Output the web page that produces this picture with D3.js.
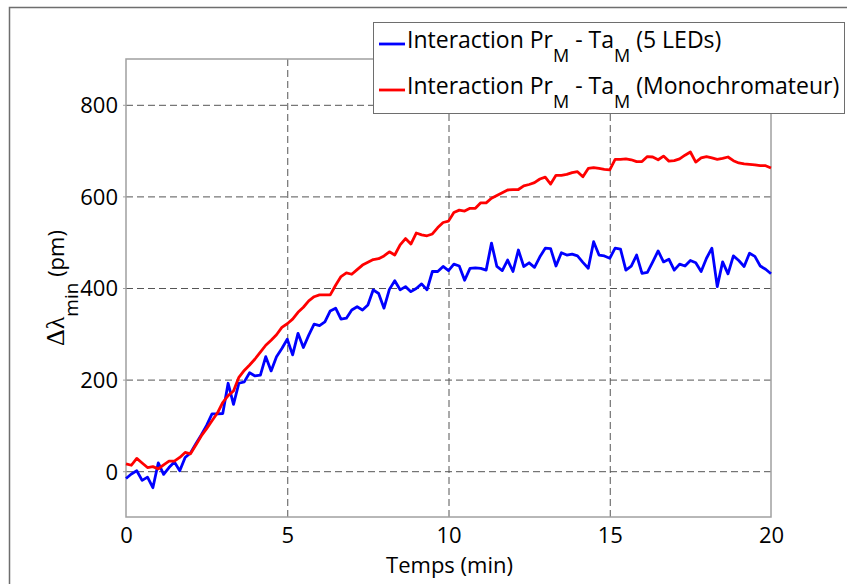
<!DOCTYPE html>
<html>
<head>
<meta charset="utf-8">
<script src="https://cdn.jsdelivr.net/npm/d3@7"></script>
<style>
  body { margin: 0; background: #fff; }
  svg { display: block; }
  text { font-family: "Open Sans", sans-serif; fill: #000; }
</style>
</head>
<body>
<svg id="chart" width="847" height="584"></svg>
<script>
// sampling interval of the recordings (10 s = 1/6 min)
const sampleStep = 1 / 6;

// Interaction PrM - TaM (5 LEDs), pm
const ledValues = [
  -16, -6, 1, -20, -13, -36, 18, -7, 8, 20, 1, 30, 40, 60, 79, 100, 125, 125, 126, 192,
  146, 192, 195, 215, 208, 210, 250, 219, 250, 268, 288, 254, 301, 270, 297, 321, 318, 326, 350, 356,
  332, 334, 352, 359, 352, 363, 396, 388, 356, 397, 416, 396, 403, 392, 399, 409, 396, 436, 436, 447,
  438, 452, 448, 417, 443, 444, 443, 439, 498, 447, 438, 461, 436, 483, 447, 455, 445, 468, 487, 486,
  448, 477, 472, 474, 470, 456, 443, 501, 472, 470, 465, 487, 485, 439, 448, 472, 432, 434, 457, 481,
  457, 463, 439, 452, 448, 460, 455, 436, 465, 487, 403, 457, 431, 470, 460, 447, 476, 469, 448, 441,
  431
];

// Interaction PrM - TaM (Monochromateur), pm
const monoValues = [
  16, 13, 28, 18, 8, 10, 5, 14, 22, 22, 30, 41, 38, 57, 77, 93, 110, 127, 150, 165,
  175, 205, 220, 232, 245, 260, 275, 286, 298, 314, 322, 332, 347, 358, 372, 381, 385, 385, 385, 406,
  425, 433, 430, 440, 450, 456, 462, 464, 470, 479, 472, 494, 508, 496, 520, 516, 514, 518, 532, 543,
  546, 565, 570, 568, 574, 574, 586, 586, 596, 602, 608, 614, 615, 615, 623, 626, 630, 638, 642, 627,
  646, 646, 648, 652, 654, 643, 661, 663, 661, 659, 658, 681, 681, 682, 680, 676, 676, 687, 686, 680,
  688, 677, 678, 682, 690, 697, 675, 684, 687, 684, 681, 683, 686, 678, 673, 671, 670, 669, 667, 667,
  662
];

const xTicks = [0, 5, 10, 15, 20];
const yTicks = [0, 200, 400, 600, 800];
const xDomain = [0, 20];
const yDomain = [-100, 900];

const seriesList = [
  { name: "5 LEDs", color: "#0000ff", values: ledValues },
  { name: "Monochromateur", color: "#ff0000", values: monoValues }
];

const svg = d3.select("#chart");

// outer frame of the figure
svg.append("rect")
  .attr("x", 9.5).attr("y", 7.5)
  .attr("width", 900).attr("height", 600)
  .attr("fill", "none")
  .attr("stroke", "#6e6e6e")
  .attr("stroke-width", 1.5);

const plot = { left: 126, right: 771, top: 59, bottom: 517 };

const x = d3.scaleLinear().domain(xDomain).range([plot.left, plot.right]);
const y = d3.scaleLinear().domain(yDomain).range([plot.bottom, plot.top]);

// dashed grid
svg.append("g")
  .attr("transform", `translate(0,${plot.bottom})`)
  .call(d3.axisBottom(x).tickValues(xTicks.slice(1, -1)).tickSize(-(plot.bottom - plot.top)).tickFormat(""))
  .call(g => g.select(".domain").remove())
  .selectAll("line")
  .attr("stroke", "#555").attr("stroke-dasharray", "7,4");

svg.append("g")
  .attr("transform", `translate(${plot.left},0)`)
  .call(d3.axisLeft(y).tickValues(yTicks).tickSize(-(plot.right - plot.left)).tickFormat(""))
  .call(g => g.select(".domain").remove())
  .selectAll("line")
  .attr("stroke", "#555").attr("stroke-dasharray", "7,4");

// axes box
svg.append("rect")
  .attr("x", plot.left).attr("y", plot.top)
  .attr("width", plot.right - plot.left).attr("height", plot.bottom - plot.top)
  .attr("fill", "none")
  .attr("stroke", "#a0a0a0")
  .attr("stroke-width", 1.5);

// tick labels
const xAxis = svg.append("g")
  .attr("transform", `translate(0,${plot.bottom})`)
  .call(d3.axisBottom(x).tickValues(xTicks).tickSize(0).tickPadding(0));
xAxis.select(".domain").remove();
xAxis.selectAll("text")
  .attr("y", 26).attr("dy", null)
  .style("font-family", "'Open Sans', sans-serif")
  .style("font-size", "22px").attr("fill", "#000");

const yAxis = svg.append("g")
  .attr("transform", `translate(${plot.left},0)`)
  .call(d3.axisLeft(y).tickValues(yTicks).tickSize(3));
yAxis.select(".domain").remove();
yAxis.selectAll("line").attr("stroke", "#a0a0a0");
yAxis.selectAll("text")
  .attr("x", -8).attr("dy", "0.36em")
  .style("font-family", "'Open Sans', sans-serif")
  .style("font-size", "22px").attr("fill", "#000");

// data lines
const line = d3.line()
  .x((d, i) => x(i * sampleStep))
  .y(d => y(d));

const lines = svg.append("g");
for (let s of seriesList) {
  lines.append("path")
    .datum(s.values)
    .attr("fill", "none")
    .attr("stroke", s.color)
    .attr("stroke-width", 2.8)
    .attr("stroke-linejoin", "round")
    .attr("d", line);
}

// axis titles
svg.append("text")
  .attr("x", (plot.left + plot.right) / 2 + 1)
  .attr("y", 573)
  .attr("text-anchor", "middle")
  .style("font-size", "22px")
  .text("Temps (min)");

const yTitle = svg.append("text")
  .attr("transform", `translate(64,${(plot.top + plot.bottom) / 2}) rotate(-90)`)
  .attr("text-anchor", "middle")
  .style("font-size", "22px");
yTitle.append("tspan")
  .style("font-family", "'Liberation Serif', serif")
  .style("font-size", "26px")
  .text("Δλ");
yTitle.append("tspan").attr("dy", 14).style("font-size", "19px").text("min");
yTitle.append("tspan").attr("dy", -14).text(" (pm)");

// legend
const legend = svg.append("g");
legend.append("rect")
  .attr("x", 373.5).attr("y", 22.5)
  .attr("width", 471).attr("height", 91)
  .attr("fill", "#fff")
  .attr("stroke", "#6e6e6e")
  .attr("stroke-width", 1);

seriesList.forEach((s, i) => {
  const yBase = 48 + i * 46;
  legend.append("line")
    .attr("x1", 379).attr("x2", 405)
    .attr("y1", yBase - 4).attr("y2", yBase - 4)
    .attr("stroke", s.color)
    .attr("stroke-width", 2.8);
  const t = legend.append("text")
    .attr("x", 407).attr("y", yBase)
    .style("font-size", "23px");
  t.append("tspan").text("Interaction Pr");
  t.append("tspan").attr("dy", 14).style("font-size", "18px").text("M");
  t.append("tspan").attr("dy", -14).text(" - Ta");
  t.append("tspan").attr("dy", 14).style("font-size", "18px").text("M");
  t.append("tspan").attr("dy", -14).text(` (${s.name})`);
});
</script>
</body>
</html>
